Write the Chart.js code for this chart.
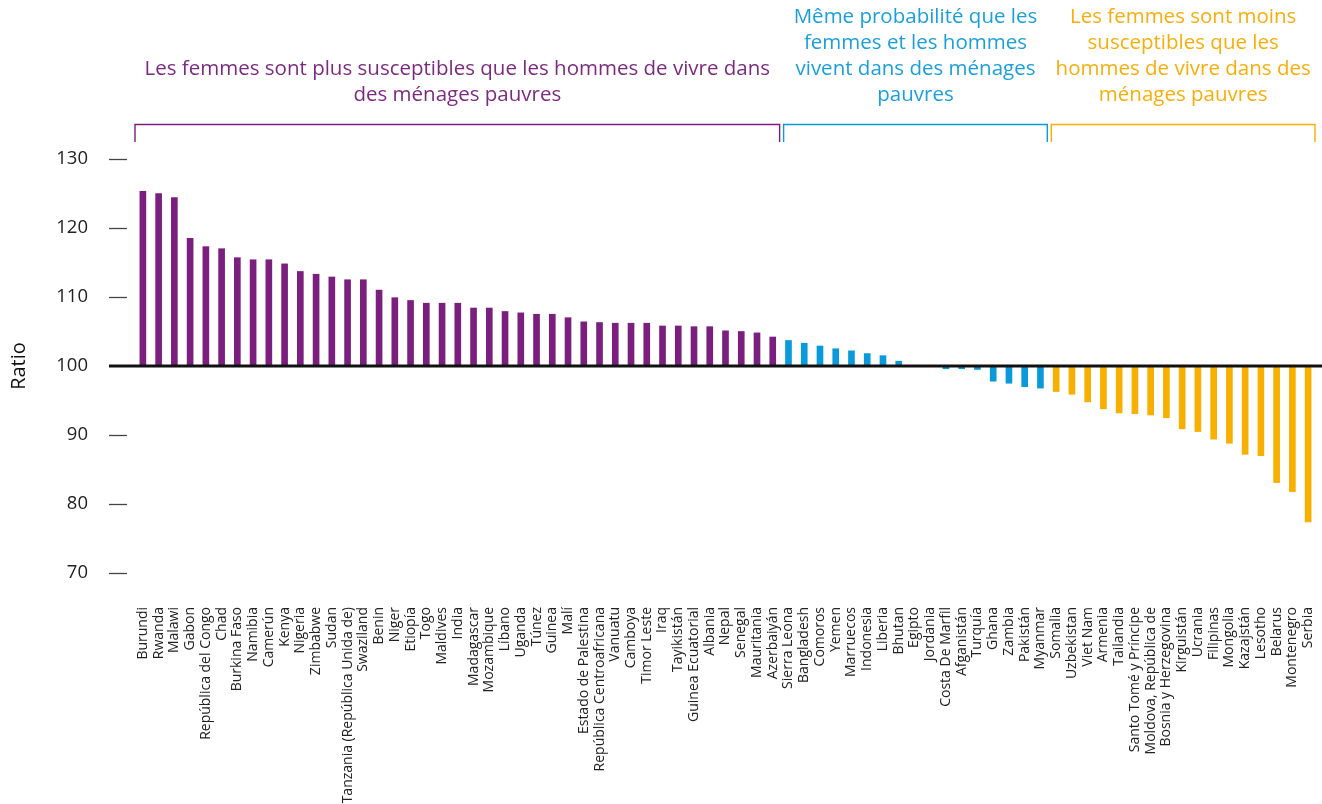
<!DOCTYPE html>
<html>
<head>
<meta charset="utf-8">
<script src="https://cdn.jsdelivr.net/npm/chart.js@4.4.1/dist/chart.umd.min.js"></script>
<style>
  html, body { margin: 0; padding: 0; background: #fff; }
  #wrap { width: 1322px; height: 804px; }
</style>
</head>
<body>
<div id="wrap"><canvas id="ratioChart" width="1322" height="804"></canvas></div>
<script>
'use strict';

// Groupe 1 : femmes plus susceptibles
const countriesMore = ['Burundi', 'Rwanda', 'Malawi', 'Gabon', 'República del Congo', 'Chad', 'Burkina Faso',
    'Namibia', 'Camerún', 'Kenya', 'Nigeria', 'Zimbabwe', 'Sudan', 'Tanzania (República Unida de)', 'Swaziland',
    'Benin', 'Niger', 'Etiopía', 'Togo', 'Maldives', 'India', 'Madagascar', 'Mozambique', 'Líbano', 'Uganda',
    'Túnez', 'Guinea', 'Malí', 'Estado de Palestina', 'República Centroafricana', 'Vanuatu', 'Camboya',
    'Timor Leste', 'Iraq', 'Tayikistán', 'Guinea Ecuatorial', 'Albania', 'Nepal', 'Senegal', 'Mauritania',
    'Azerbaiyán'];
const valuesMore = [125.3, 125.0, 124.4, 118.5, 117.3, 117.0, 115.7, 115.4, 115.4, 114.8, 113.7, 113.3, 112.9,
    112.5, 112.5, 111.0, 109.9, 109.5, 109.1, 109.1, 109.1, 108.4, 108.4, 107.9, 107.7, 107.5, 107.5, 107.0,
    106.4, 106.3, 106.2, 106.2, 106.2, 105.8, 105.8, 105.7, 105.7, 105.1, 105.0, 104.8, 104.2];

// Groupe 2 : même probabilité
const countriesEqual = ['Sierra Leona', 'Bangladesh', 'Comoros', 'Yemen', 'Marruecos', 'Indonesia', 'Liberia',
    'Bhutan', 'Egipto', 'Jordania', 'Costa De Marfil', 'Afganistán', 'Turquía', 'Ghana', 'Zambia', 'Pakistán',
    'Myanmar'];
const valuesEqual = [103.7, 103.3, 102.9, 102.5, 102.2, 101.8, 101.5, 100.7, 100.0, 100.0, 99.6, 99.6, 99.5,
    97.8, 97.5, 97.0, 96.8];

// Groupe 3 : femmes moins susceptibles
const countriesLess = ['Somalia', 'Uzbekistan', 'Viet Nam', 'Armenia', 'Tailandia', 'Santo Tomé y Príncipe',
    'Moldova, República de', 'Bosnia y Herzegovina', 'Kirguistán', 'Ucrania', 'Filipinas', 'Mongolia',
    'Kazajstán', 'Lesotho', 'Belarus', 'Montenegro', 'Serbia'];
const valuesLess = [96.3, 95.9, 94.8, 93.8, 93.2, 93.1, 92.9, 92.5, 90.9, 90.5, 89.4, 88.8, 87.2, 87.0, 83.1,
    81.8, 77.4];

const groupTitles = [
    ['Les femmes sont plus susceptibles que les hommes de vivre dans', 'des ménages pauvres'],
    ['Même probabilité que les', 'femmes et les hommes', 'vivent dans des ménages', 'pauvres'],
    ['Les femmes sont moins', 'susceptibles que les', 'hommes de vivre dans des', 'ménages pauvres']
];
const groupColors = ['#7b1f7e', '#0a9ad9', '#f8b000'];
const groupTextColors = ['#7b2a80', '#1a9fdc', '#f8ae0a'];

const FONT = "'Open Sans', sans-serif";

const groupSizes = [countriesMore.length, countriesEqual.length, countriesLess.length];
const labels = [...countriesMore, ...countriesEqual, ...countriesLess];
const values = [...valuesMore, ...valuesEqual, ...valuesLess];
const barColors = [];
groupSizes.forEach((n, g) => { for (let i = 0; i < n; i++) barColors.push(groupColors[g]); });

// ticks courts, ligne de base 100, accolades et titres de groupes
const decorPlugin = {
    id: 'decor',
    afterDraw(chart) {
        const { ctx, scales: { x, y } } = chart;
        ctx.save();

        ctx.strokeStyle = '#444';
        ctx.lineWidth = 1.3;
        y.ticks.forEach(t => {
            if (t.value === 100) return;
            const py = Math.round(y.getPixelForValue(t.value)) + 0.5;
            ctx.beginPath();
            ctx.moveTo(x.left - 26, py);
            ctx.lineTo(x.left - 8, py);
            ctx.stroke();
        });

        const py0 = y.getPixelForValue(100);
        ctx.strokeStyle = '#111';
        ctx.lineWidth = 3;
        ctx.beginPath();
        ctx.moveTo(x.left - 26, py0);
        ctx.lineTo(chart.width, py0);
        ctx.stroke();

        const half = (x.getPixelForValue(1) - x.getPixelForValue(0)) / 2;
        let start = 0;
        groupSizes.forEach((n, g) => {
            const x1 = x.getPixelForValue(start) - half + (g > 0 ? 3 : 0);
            const x2 = x.getPixelForValue(start + n - 1) + half - 1;
            const top = 124.5, bottom = 142;
            ctx.strokeStyle = groupColors[g];
            ctx.lineWidth = 1.4;
            ctx.beginPath();
            ctx.moveTo(x1, bottom);
            ctx.lineTo(x1, top);
            ctx.lineTo(x2, top);
            ctx.lineTo(x2, bottom);
            ctx.stroke();

            const lines = groupTitles[g];
            ctx.fillStyle = groupTextColors[g];
            ctx.font = '20.5px ' + FONT;
            ctx.textAlign = 'center';
            ctx.textBaseline = 'middle';
            lines.forEach((line, i) => {
                ctx.fillText(line, (x1 + x2) / 2, 95 - (lines.length - 1 - i) * 26);
            });
            start += n;
        });
        ctx.restore();
    }
};

const ctx = document.getElementById('ratioChart').getContext('2d');
new Chart(ctx, {
    type: 'bar',
    data: {
        labels: labels,
        datasets: [{
            data: values,
            base: 100,
            backgroundColor: barColors,
            borderWidth: 0,
            barThickness: 6
        }]
    },
    options: {
        responsive: false,
        animation: false,
        devicePixelRatio: 1,
        layout: {
            padding: { top: 159, right: 6, left: 0, bottom: 0 }
        },
        plugins: {
            legend: { display: false },
            tooltip: { enabled: false }
        },
        scales: {
            x: {
                afterFit: scale => {
                    scale.height = 231;
                    scale.paddingLeft = 0;
                    scale.paddingRight = 0;
                },
                grid: { display: false },
                border: { display: false },
                ticks: {
                    autoSkip: false,
                    maxRotation: 90,
                    minRotation: 90,
                    padding: 26,
                    color: '#222',
                    font: { family: FONT, size: 14 }
                }
            },
            y: {
                min: 70,
                max: 130,
                afterFit: scale => {
                    scale.width = 135;
                    scale.paddingTop = 0;
                    scale.paddingBottom = 0;
                },
                grid: { display: false },
                border: { display: false },
                ticks: {
                    stepSize: 10,
                    padding: 39,
                    color: '#222',
                    font: { family: FONT, size: 18.5 }
                },
                title: {
                    display: true,
                    text: 'Ratio',
                    color: '#111',
                    padding: { top: 7, bottom: 0 },
                    font: { family: FONT, size: 20 }
                }
            }
        }
    },
    plugins: [decorPlugin]
});
</script>
</body>
</html>
